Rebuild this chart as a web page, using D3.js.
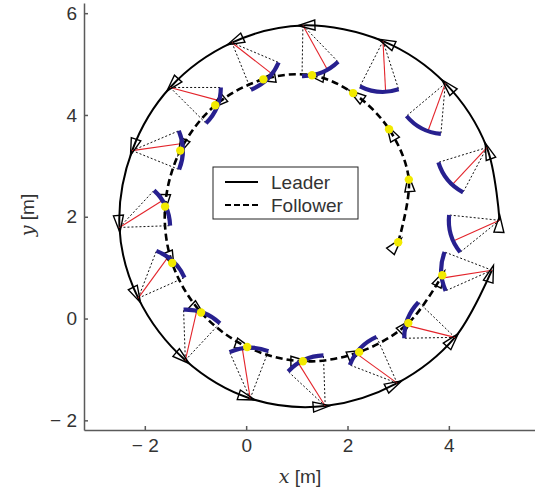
<!DOCTYPE html>
<html>
<head>
<meta charset="utf-8">
<script src="https://cdn.jsdelivr.net/npm/d3@7"></script>
<style>
  body { margin: 0; background: #fff; }
  svg { display: block; }
</style>
</head>
<body>
<div id="chart"></div>
<script>
// ---- data (metres / degrees) ----
const xTicks = [-2, 0, 2, 4];
const yTicks = [-2, 0, 2, 4, 6];

const leaderX = [5.00, 4.75, 3.93, 2.70, 1.12, -0.28, -1.50, -2.25, -2.50, -2.13, -1.20, 0.08, 1.56, 2.98, 4.12, 4.85];
const leaderY = [1.93, 3.36, 4.62, 5.45, 5.76, 5.42, 4.54, 3.30, 1.79, 0.40, -0.82, -1.57, -1.72, -1.27, -0.37, 0.95];
const leaderHeading = [87, 110, 133, 156, 182, 205, 228, 251, 275, 297, 320, 342, 5, 27, 49, 72];

const followerX = [3.00, 3.21, 2.82, 2.11, 1.30, 0.34, -0.61, -1.30, -1.60, -1.46, -0.89, 0.02, 1.12, 2.23, 3.20, 3.87];
const followerY = [1.50, 2.73, 3.72, 4.43, 4.78, 4.70, 4.19, 3.30, 2.20, 1.09, 0.12, -0.56, -0.84, -0.66, -0.09, 0.85];
const followerHeading = [50, 95, 120, 145, 170, 190, 220, 245, 268, 292, 318, 340, 0, 22, 45, 62];

const seriesNames = ['Leader', 'Follower'];

// admissible follower region, bearing measured from leader heading
const sepRadius = 1.0;
const bearingMin = 87;
const bearingMax = 132;
const bearingRef = 117;

// ---- layout ----
const W = 535;
const H = 492;
const fontSize = 19;
const axisColor = '#5a5a5a';
const textColor = '#333';
const sansFont = '"Liberation Sans", Arial, sans-serif';
const mathFont = '"DejaVu Serif", "Liberation Serif", serif';

const x = d3.scaleLinear().domain([-3.2, 5.7]).range([84, 535]);
const y = d3.scaleLinear().domain([-2.19, 6.2]).range([430, 3]);

const svg = d3.select('#chart').append('svg')
  .attr('width', W)
  .attr('height', H)
  .attr('viewBox', `0 0 ${W} ${H}`);

const tickFmt = d => (d < 0 ? `\u2212 ${Math.abs(d)}` : `${d}`);

const xAxis = d3.axisBottom(x)
  .tickValues(xTicks)
  .tickFormat(tickFmt)
  .tickSizeInner(-4)
  .tickSizeOuter(0)
  .tickPadding(9);

const yAxis = d3.axisLeft(y)
  .tickValues(yTicks)
  .tickFormat(tickFmt)
  .tickSizeInner(-4)
  .tickSizeOuter(0)
  .tickPadding(7);

const xAx = svg.append('g')
  .attr('transform', `translate(0,${y.range()[0]})`)
  .call(xAxis);

const yAx = svg.append('g')
  .attr('transform', `translate(${x.range()[0]},0)`)
  .call(yAxis);

[xAx, yAx].forEach(ax => {
  ax.selectAll('path, line')
    .style('stroke', axisColor)
    .style('stroke-width', '1.5px');
  ax.selectAll('text')
    .style('font-family', sansFont)
    .style('font-size', `${fontSize}px`)
    .style('fill', textColor);
});

// axis titles: italic math symbol + unit
const axisTitle = (sel, sym) => {
  sel.attr('text-anchor', 'middle')
    .style('font-size', `${fontSize}px`)
    .style('fill', textColor);
  sel.append('tspan')
    .style('font-family', mathFont)
    .style('font-style', 'italic')
    .text(sym);
  sel.append('tspan')
    .style('font-family', sansFont)
    .text(' [m]');
};

axisTitle(svg.append('text').attr('x', 300).attr('y', 483), 'x');
axisTitle(svg.append('text').attr('transform', 'translate(34,215) rotate(-90)'), 'y');

// ---- trajectories ----
const leaderPts = leaderX.map((v, i) => [v, leaderY[i]]);
const followerPts = followerX.map((v, i) => [v, followerY[i]]);

const traj = d3.line()
  .curve(d3.curveCatmullRom.alpha(0.5))
  .x(d => x(d[0]))
  .y(d => y(d[1]));

svg.append('path')
  .attr('d', traj(leaderPts))
  .style('fill', 'none')
  .style('stroke', '#000')
  .style('stroke-width', 2);

svg.append('path')
  .attr('d', traj(followerPts))
  .style('fill', 'none')
  .style('stroke', '#000')
  .style('stroke-width', 2.6)
  .style('stroke-dasharray', '7,4');

// ---- per-pose sectors ----
const rad = Math.PI / 180;
const rPx = x(sepRadius) - x(0);

const poses = leaderX.map((v, i) => {
  const cx = x(v);
  const cy = y(leaderY[i]);
  const a0 = (leaderHeading[i] + bearingMin) * rad;
  const a1 = (leaderHeading[i] + bearingMax) * rad;
  const ar = (leaderHeading[i] + bearingRef) * rad;
  return {
    cx, cy, a0, a1,
    p0: [cx + rPx * Math.cos(a0), cy - rPx * Math.sin(a0)],
    p1: [cx + rPx * Math.cos(a1), cy - rPx * Math.sin(a1)],
    pr: [cx + rPx * Math.cos(ar), cy - rPx * Math.sin(ar)],
  };
});

// dotted bounds
svg.append('g').selectAll('line')
  .data(poses.flatMap(p => [[p.cx, p.cy, p.p0], [p.cx, p.cy, p.p1]]))
  .enter().append('line')
  .attr('x1', d => d[0])
  .attr('y1', d => d[1])
  .attr('x2', d => d[2][0])
  .attr('y2', d => d[2][1])
  .style('stroke', '#111')
  .style('stroke-width', 1)
  .style('stroke-dasharray', '2,2');

// reference bearing
svg.append('g').selectAll('line')
  .data(poses)
  .enter().append('line')
  .attr('x1', d => d.cx)
  .attr('y1', d => d.cy)
  .attr('x2', d => d.pr[0])
  .attr('y2', d => d.pr[1])
  .style('stroke', '#e3242b')
  .style('stroke-width', 1.1);

// robot triangles
const triangle = (px, py, hdg) => {
  const h = hdg * rad;
  const ux = Math.cos(h);
  const uy = -Math.sin(h);
  const nx = -uy;
  const ny = ux;
  const bx = px - 12 * ux;
  const by = py - 12 * uy;
  return `M${px + 5 * ux},${py + 5 * uy}` +
    `L${bx + 5 * nx},${by + 5 * ny}` +
    `L${bx - 5 * nx},${by - 5 * ny}Z`;
};

svg.append('g').selectAll('path')
  .data(leaderX.map((v, i) => triangle(x(v), y(leaderY[i]), leaderHeading[i]))
    .concat(followerX.map((v, i) => triangle(x(v), y(followerY[i]), followerHeading[i]))))
  .enter().append('path')
  .attr('d', d => d)
  .style('fill', 'none')
  .style('stroke', '#000')
  .style('stroke-width', 1.4);

// admissible arcs
svg.append('g').selectAll('path')
  .data(poses)
  .enter().append('path')
  .attr('d', d => {
    const p = d3.path();
    p.arc(d.cx, d.cy, rPx, -d.a0, -d.a1, true);
    return p.toString();
  })
  .style('fill', 'none')
  .style('stroke', '#27208f')
  .style('stroke-width', 4.2);

// follower markers
svg.append('g').selectAll('circle')
  .data(followerPts)
  .enter().append('circle')
  .attr('cx', d => x(d[0]))
  .attr('cy', d => y(d[1]))
  .attr('r', 4.2)
  .style('fill', '#f2ea00');

// ---- legend ----
const legend = svg.append('g').attr('transform', 'translate(213,167)');
legend.append('rect')
  .attr('width', 145)
  .attr('height', 52)
  .style('fill', '#fff')
  .style('stroke', '#222')
  .style('stroke-width', 1);

seriesNames.forEach((name, i) => {
  const ly = 15 + i * 23;
  legend.append('line')
    .attr('x1', 12)
    .attr('x2', 45)
    .attr('y1', ly)
    .attr('y2', ly)
    .style('stroke', '#000')
    .style('stroke-width', 2)
    .style('stroke-dasharray', i === 1 ? '6,3' : null);
  legend.append('text')
    .attr('x', 58)
    .attr('y', ly + 6.5)
    .style('font-family', sansFont)
    .style('font-size', `${fontSize}px`)
    .style('fill', textColor)
    .text(name);
});
</script>
</body>
</html>
